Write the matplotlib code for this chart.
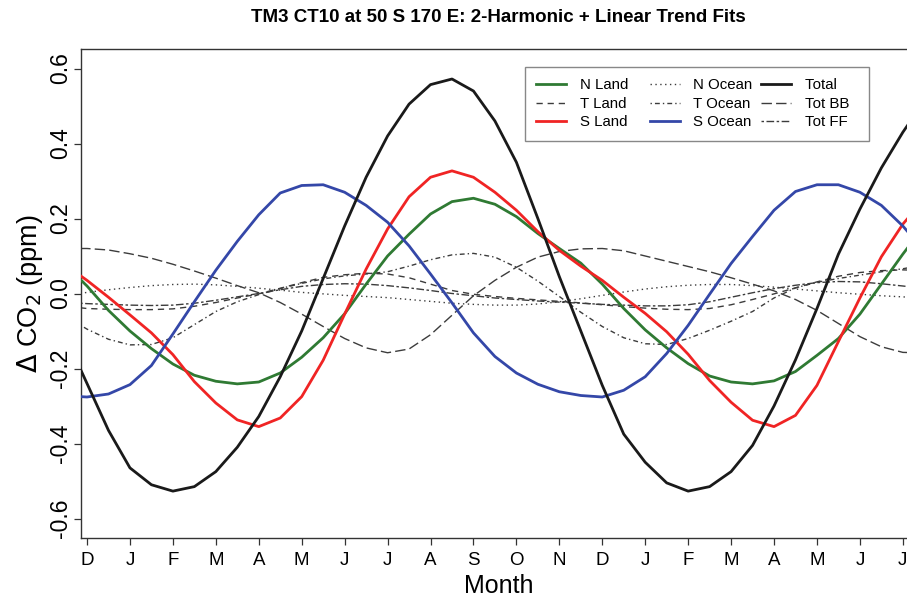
#!/usr/bin/env python3
"""TM3 CT10 at 50 S 170 E: seasonal cycle curves (2-harmonic + linear trend fits)."""

import matplotlib

matplotlib.use("Agg")
import matplotlib.pyplot as plt

plt.rcParams["font.family"] = ["Liberation Sans", "DejaVu Sans"]

# months since the first December (D = 0)
MONTH_POS = [-0.16, 0, 0.5, 1, 1.5, 2, 2.5, 3, 3.5, 4, 4.5, 5, 5.5, 6, 6.5, 7, 7.5,
             8, 8.5, 9, 9.5, 10, 10.5, 11, 11.5, 12, 12.5, 13, 13.5, 14, 14.5, 15,
             15.5, 16, 16.5, 17, 17.5, 18, 18.5, 19, 19.3]
MONTH_LABELS = ["D", "J", "F", "M", "A", "M", "J", "J", "A", "S", "O", "N",
                "D", "J", "F", "M", "A", "M", "J", "J"]

# delta CO2 (ppm)
N_LAND = [0.038, 0.02, -0.045, -0.1, -0.147, -0.188, -0.218, -0.234, -0.241, -0.236,
          -0.212, -0.17, -0.118, -0.054, 0.025, 0.1, 0.158, 0.212, 0.245, 0.254,
          0.238, 0.205, 0.16, 0.12, 0.081, 0.025, -0.04, -0.097, -0.145, -0.187,
          -0.22, -0.236, -0.241, -0.233, -0.208, -0.165, -0.12, -0.055, 0.025,
          0.105, 0.15]
T_LAND = [-0.038, -0.04, -0.042, -0.043, -0.043, -0.041, -0.034, -0.024, -0.012,
          -0.001, 0.014, 0.029, 0.043, 0.05, 0.054, 0.052, 0.042, 0.025, 0.008,
          -0.002, -0.008, -0.013, -0.017, -0.021, -0.025, -0.03, -0.035, -0.039,
          -0.042, -0.043, -0.04, -0.03, -0.016, -0.001, 0.015, 0.031, 0.046,
          0.056, 0.061, 0.063, 0.062]
S_LAND = [0.048, 0.035, -0.01, -0.057, -0.105, -0.163, -0.235, -0.292, -0.337,
          -0.355, -0.332, -0.275, -0.178, -0.055, 0.065, 0.172, 0.258, 0.31,
          0.327, 0.31, 0.27, 0.222, 0.165, 0.115, 0.073, 0.035, -0.01, -0.053,
          -0.102, -0.162, -0.232, -0.29, -0.338, -0.355, -0.325, -0.245, -0.128,
          -0.012, 0.098, 0.185, 0.225]
N_OCEAN = [0.0, 0.003, 0.01, 0.016, 0.021, 0.024, 0.025, 0.023, 0.019, 0.014,
           0.009, 0.003, -0.001, -0.005, -0.008, -0.011, -0.016, -0.021, -0.026,
           -0.029, -0.031, -0.031, -0.028, -0.022, -0.014, -0.005, 0.004, 0.012,
           0.018, 0.022, 0.024, 0.024, 0.021, 0.017, 0.012, 0.007, 0.002, -0.002,
           -0.006, -0.009, -0.011]
T_OCEAN = [-0.084, -0.095, -0.122, -0.137, -0.136, -0.118, -0.083, -0.048, -0.022,
           -0.003, 0.013, 0.027, 0.039, 0.047, 0.052, 0.058, 0.073, 0.09, 0.103,
           0.107, 0.097, 0.07, 0.033, -0.008, -0.05, -0.088, -0.118, -0.134,
           -0.136, -0.12, -0.098, -0.074, -0.048, -0.012, 0.015, 0.03, 0.04,
           0.049, 0.058, 0.066, 0.072]
S_OCEAN = [-0.275, -0.276, -0.268, -0.243, -0.192, -0.108, -0.022, 0.062, 0.139,
           0.21, 0.268, 0.288, 0.29, 0.27, 0.235, 0.19, 0.127, 0.052, -0.025,
           -0.105, -0.168, -0.212, -0.242, -0.262, -0.272, -0.276, -0.258, -0.222,
           -0.16, -0.085, -0.002, 0.08, 0.152, 0.222, 0.272, 0.29, 0.29, 0.27,
           0.235, 0.18, 0.14]
TOTAL = [-0.2, -0.24, -0.365, -0.465, -0.51, -0.527, -0.515, -0.475, -0.41, -0.328,
         -0.222, -0.1, 0.04, 0.18, 0.31, 0.42, 0.505, 0.557, 0.572, 0.54, 0.46,
         0.35, 0.2, 0.045, -0.1, -0.245, -0.375, -0.45, -0.505, -0.527, -0.515,
         -0.475, -0.405, -0.3, -0.177, -0.04, 0.105, 0.225, 0.335, 0.43, 0.48]
TOT_BB = [0.12, 0.12, 0.116, 0.106, 0.094, 0.078, 0.06, 0.041, 0.021, 0.002,
          -0.024, -0.055, -0.088, -0.12, -0.145, -0.158, -0.148, -0.11, -0.058,
          -0.006, 0.035, 0.07, 0.097, 0.112, 0.119, 0.12, 0.114, 0.1, 0.086,
          0.072, 0.058, 0.042, 0.025, 0.007, -0.016, -0.045, -0.08, -0.115,
          -0.142, -0.157, -0.158]
TOT_FF = [-0.026, -0.027, -0.029, -0.031, -0.032, -0.031, -0.026, -0.018, -0.009,
          0.0, 0.01, 0.019, 0.024, 0.026, 0.025, 0.021, 0.015, 0.008, 0.0, -0.006,
          -0.012, -0.016, -0.02, -0.023, -0.026, -0.029, -0.031, -0.033, -0.033,
          -0.03, -0.022, -0.01, 0.002, 0.013, 0.022, 0.029, 0.032, 0.031, 0.026,
          0.02, 0.016]

GRAY = "#3c3c3c"


def main() -> None:
    fig = plt.figure(figsize=(9.07, 5.99), dpi=100)
    ax = fig.add_axes([81 / 907, 61 / 599, 833 / 907, 489 / 599])

    # (label, values, colour, linewidth, linestyle) in legend order
    series = [
        ("N Land", N_LAND, "#2f7a33", 2.0, "-"),
        ("T Land", T_LAND, GRAY, 1.0, (0, (4.5, 3.5))),
        ("S Land", S_LAND, "#f02424", 2.0, "-"),
        ("N Ocean", N_OCEAN, GRAY, 1.0, (0, (1, 2.5))),
        ("T Ocean", T_OCEAN, GRAY, 1.0, (0, (1, 2.2, 3.5, 2.2))),
        ("S Ocean", S_OCEAN, "#3447a8", 2.0, "-"),
        ("Total", TOTAL, "#1a1a1a", 2.0, "-"),
        ("Tot BB", TOT_BB, GRAY, 1.0, (0, (7.5, 3))),
        ("Tot FF", TOT_FF, GRAY, 1.0, (0, (1.8, 1.8, 5.5, 1.8))),
    ]

    # thin lines first so the coloured ones sit on top
    handles = {}
    for label, vals, color, lw, ls in series:
        z = 3 if lw > 1.5 else 2
        (line,) = ax.plot(MONTH_POS, vals, color=color, lw=lw, ls=ls, zorder=z,
                          label=label, solid_joinstyle="round",
                          dash_joinstyle="round")
        handles[label] = line

    ax.set_xlim(-0.14, 19.26)
    ax.set_ylim(-0.652, 0.652)

    ax.set_xticks(range(len(MONTH_LABELS)))
    ax.set_xticklabels(MONTH_LABELS, fontsize=13.5)
    ax.set_yticks([-0.6, -0.4, -0.2, 0.0, 0.2, 0.4, 0.6])
    ax.set_yticklabels(["-0.6", "-0.4", "-0.2", "0.0", "0.2", "0.4", "0.6"],
                       fontsize=16.5, rotation=90, va="center")
    ax.tick_params(axis="both", direction="out", length=5, width=0.9,
                   color="#333333")
    ax.tick_params(axis="x", pad=5)
    ax.tick_params(axis="y", pad=1.5)
    for sp in ax.spines.values():
        sp.set_color("#333333")
        sp.set_linewidth(1.0)

    ax.set_xlabel("Month", fontsize=18)
    ax.xaxis.set_label_coords((499 - 81) / 833, (538 - 586) / 489)
    ax.xaxis.label.set_va("center")
    ax.set_ylabel(r"$\Delta$ CO$_2$ (ppm)", fontsize=19.5)
    ax.yaxis.set_label_coords((30 - 81) / 833, 0.5)
    ax.yaxis.label.set_va("center")

    fig.text(498 / 907, 1 - 18 / 599,
             "TM3 CT10 at 50 S 170 E: 2-Harmonic + Linear Trend Fits",
             ha="center", va="center", fontsize=13.5, fontweight="bold")

    # R lays the legend out in equal-width columns; pad the short labels
    order = [s[0] for s in series]
    pad = {"Land": "   ", "Ocean": "", "Total": "  ", "BB": "  ", "FF": "  "}
    texts = [k + pad[k.split()[-1]] for k in order]
    leg = ax.legend([handles[k] for k in order], texts, ncol=3,
                    loc="upper left", bbox_to_anchor=(525 / 907, 1 - 67 / 599),
                    bbox_transform=fig.transFigure, fontsize=10.8,
                    frameon=True, fancybox=False, framealpha=1,
                    edgecolor="#888888", borderpad=0.75, labelspacing=0.3,
                    handlelength=2.0, handletextpad=0.9, columnspacing=0.6,
                    borderaxespad=0)
    leg.get_frame().set_linewidth(1.0)

    fig.savefig("out.png", dpi=100)


if __name__ == "__main__":
    main()
